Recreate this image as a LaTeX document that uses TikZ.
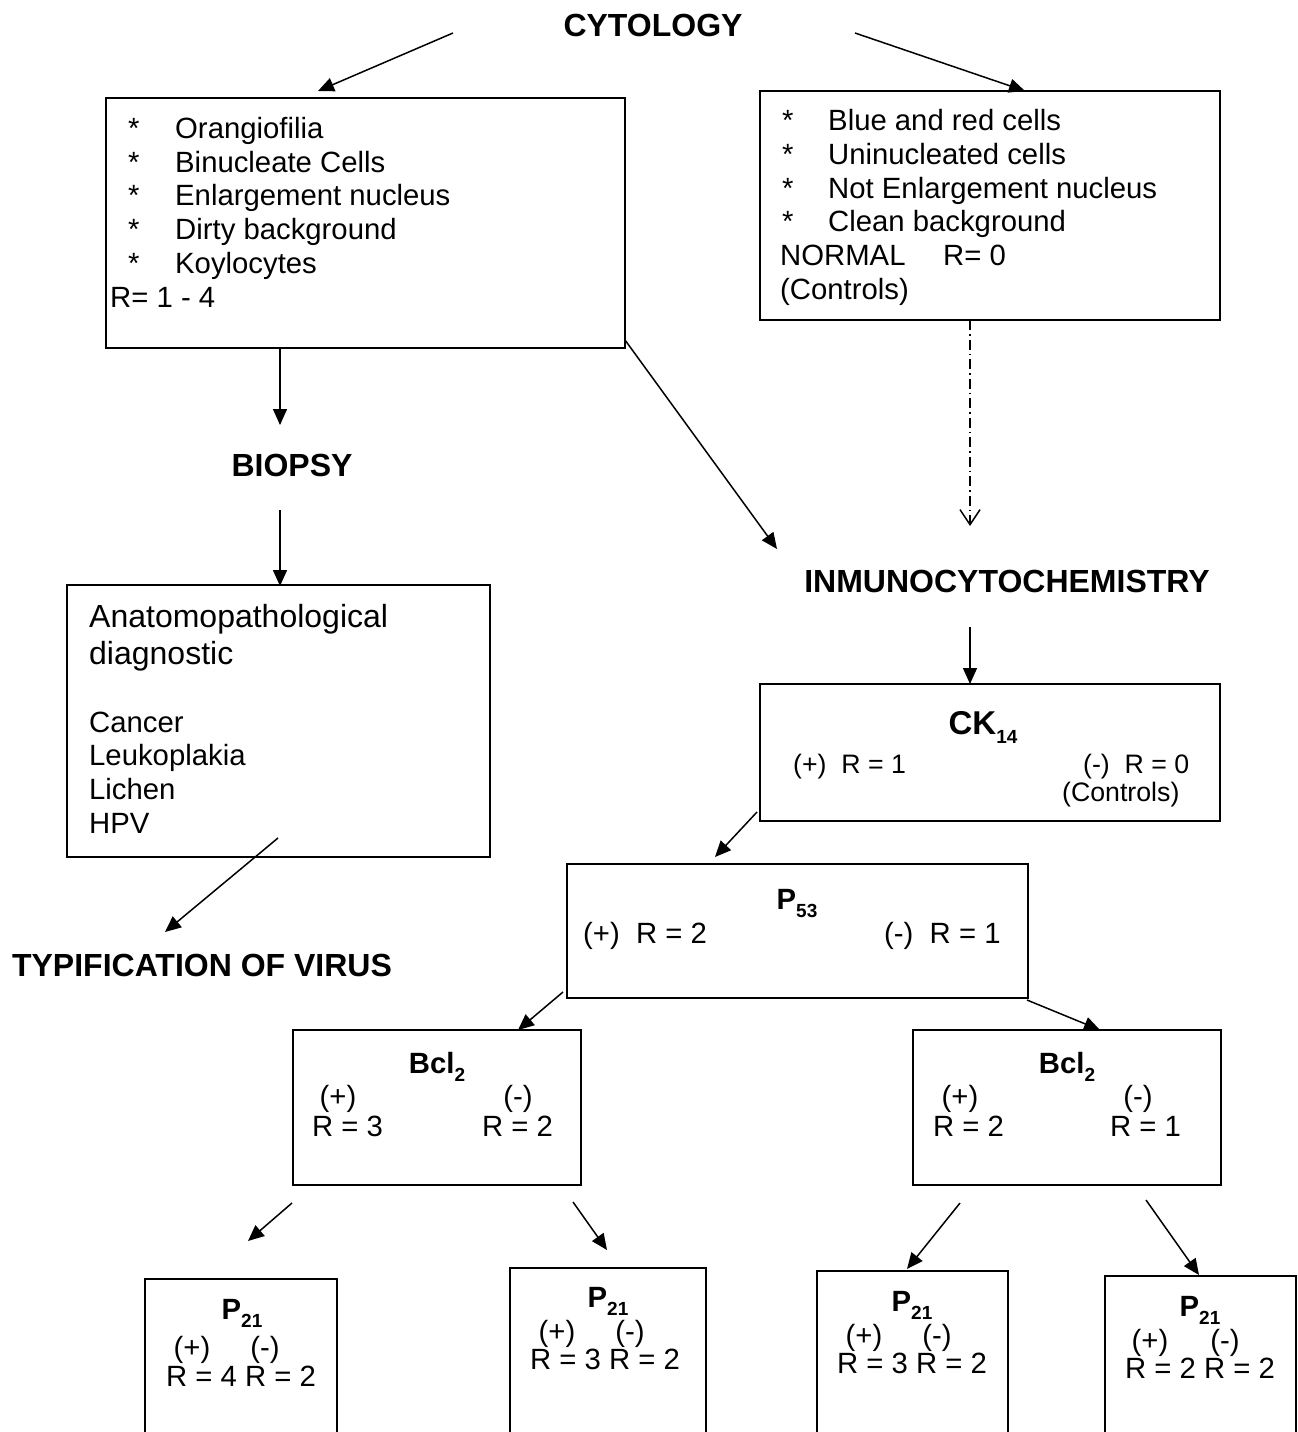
\documentclass[tikz,border=0pt]{standalone}
\usepackage{fontspec}
\setmainfont{Liberation Sans}
\usetikzlibrary{arrows.meta}

% subscript for the marker names
\newcommand{\mksub}[1]{\raisebox{-0.28em}{\fontsize{19}{19}\selectfont\bfseries #1}}

\tikzset{
  box/.style={draw, line width=1.8pt, anchor=north west, inner sep=0pt, outer sep=0pt},
  txt/.style={anchor=base west, inner sep=0pt, font=\fontsize{29.3}{33.8}\selectfont},
  smalltxt/.style={anchor=base west, inner sep=0pt, font=\fontsize{26.7}{31}\selectfont},
  ctxt/.style={anchor=base, inner sep=0pt, font=\fontsize{29.3}{33.8}\selectfont},
  bigtxt/.style={anchor=base west, inner sep=0pt, font=\fontsize{32}{37}\selectfont},
  head/.style={anchor=base, inner sep=0pt, font=\fontsize{32}{38}\selectfont\bfseries},
  ttl/.style={anchor=base, inner sep=0pt, font=\fontsize{29.3}{34}\selectfont\bfseries},
  arr/.style={line width=1.5pt, -{Triangle[length=16pt,width=14pt]}},
  dotarr/.style={line width=1.5pt, dash pattern=on 10pt off 4pt on 1.5pt off 4pt,
    -{Straight Barb[length=15pt,width=20pt]}}
}

\begin{document}
\begin{tikzpicture}[x=1pt,y=-1pt]
\useasboundingbox (0,0) rectangle (1298,1432);
\clip (0,0) rectangle (1298,1432);

% Headings
\node[head] (cyto) at (653,36) {CYTOLOGY};
\node[head] (biopsy) at (292,476) {BIOPSY};
\node[head] (inmuno) at (1007,592) {INMUNOCYTOCHEMISTRY};
\node[head] (typif) at (202,976) {TYPIFICATION OF VIRUS};

% Boxes
\node[box, minimum width=519pt, minimum height=250pt] (boxA) at (106,98) {};
\node[box, minimum width=460pt, minimum height=229pt] (boxB) at (760,91) {};
\node[box, minimum width=423pt, minimum height=272pt] (boxC) at (67,585) {};
\node[box, minimum width=460pt, minimum height=137pt] (ck) at (760,684) {};
\node[box, minimum width=461pt, minimum height=134pt] (pf) at (567,864) {};
\node[box, minimum width=288pt, minimum height=155pt] (bclL) at (293,1030) {};
\node[box, minimum width=308pt, minimum height=155pt] (bclR) at (913,1030) {};
\node[box, minimum width=192pt, minimum height=190pt] (ptA) at (145,1279) {};
\node[box, minimum width=196pt, minimum height=200pt] (ptB) at (510,1268) {};
\node[box, minimum width=191pt, minimum height=200pt] (ptC) at (817,1271) {};
\node[box, minimum width=191pt, minimum height=190pt] (ptD) at (1105,1276) {};

% Left cytology box
\node[txt] (sA1) at (128,138) {*};
\node[txt] (tA1) at (175,138) {Orangiofilia};
\node[txt] (sA2) at (128,172) {*};
\node[txt] (tA2) at (175,172) {Binucleate Cells};
\node[txt] (sA3) at (128,205) {*};
\node[txt] (tA3) at (175,205) {Enlargement nucleus};
\node[txt] (sA4) at (128,239) {*};
\node[txt] (tA4) at (175,239) {Dirty background};
\node[txt] (sA5) at (128,273) {*};
\node[txt] (tA5) at (175,273) {Koylocytes};
\node[txt] (rA) at (110,307) {R= 1 - 4};

% Right cytology box
\node[txt] (sB1) at (782,130) {*};
\node[txt] (tB1) at (828,130) {Blue and red cells};
\node[txt] (sB2) at (782,164) {*};
\node[txt] (tB2) at (828,164) {Uninucleated cells};
\node[txt] (sB3) at (782,198) {*};
\node[txt] (tB3) at (828,198) {Not Enlargement nucleus};
\node[txt] (sB4) at (782,231) {*};
\node[txt] (tB4) at (828,231) {Clean background};
\node[txt] (nB) at (780,265) {NORMAL};
\node[txt] (rB) at (943,265) {R= 0};
\node[txt] (cB) at (780,299) {(Controls)};

% Biopsy box
\node[bigtxt] (tC1) at (89,627) {Anatomopathological};
\node[bigtxt] (tC2) at (89,664) {diagnostic};
\node[txt] (tC3) at (89,732) {Cancer};
\node[txt] (tC4) at (89,765) {Leukoplakia};
\node[txt] (tC5) at (89,799) {Lichen};
\node[txt] (tC6) at (89,833) {HPV};

% CK14 box
\node[ttl, font=\fontsize{33}{38}\selectfont\bfseries] (ckT) at (983,734) {CK\mksub{14}};
\node[smalltxt] (ckP) at (793,773) {(+)\ \ R = 1};
\node[smalltxt] (ckN) at (1083,773) {(-)\ \ R = 0};
\node[smalltxt] (ckC) at (1062,801) {(Controls)};

% P53 box
\node[ttl] (pfT) at (797,909) {P\mksub{53}};
\node[txt] (pfP) at (583,943) {(+)\ \ R = 2};
\node[txt] (pfN) at (884,943) {(-)\ \ R = 1};

% Bcl2 boxes
\node[ttl] (bclLT) at (437,1073) {Bcl\mksub{2}};
\node[ctxt] (bclLP) at (338,1106) {(+)};
\node[ctxt] (bclLN) at (518,1106) {(-)};
\node[txt] (bclLR1) at (312,1136) {R = 3};
\node[txt] (bclLR2) at (482,1136) {R = 2};
\node[ttl] (bclRT) at (1067,1073) {Bcl\mksub{2}};
\node[ctxt] (bclRP) at (960,1106) {(+)};
\node[ctxt] (bclRN) at (1138,1106) {(-)};
\node[txt] (bclRR1) at (933,1136) {R = 2};
\node[txt] (bclRR2) at (1110,1136) {R = 1};

% P21 boxes
\node[ttl] (ptAT) at (242,1319) {P\mksub{21}};
\node[ctxt] (ptAP) at (192,1357) {(+)};
\node[ctxt] (ptAN) at (265,1357) {(-)};
\node[txt] (ptAR) at (166,1386) {R = 4 R = 2};
\node[ttl] (ptBT) at (608,1307) {P\mksub{21}};
\node[ctxt] (ptBP) at (557,1341) {(+)};
\node[ctxt] (ptBN) at (630,1341) {(-)};
\node[txt] (ptBR) at (530,1369) {R = 3 R = 2};
\node[ttl] (ptCT) at (912,1311) {P\mksub{21}};
\node[ctxt] (ptCP) at (864,1345) {(+)};
\node[ctxt] (ptCN) at (937,1345) {(-)};
\node[txt] (ptCR) at (837,1373) {R = 3 R = 2};
\node[ttl] (ptDT) at (1200,1316) {P\mksub{21}};
\node[ctxt] (ptDP) at (1150,1350) {(+)};
\node[ctxt] (ptDN) at (1225,1350) {(-)};
\node[txt] (ptDR) at (1125,1378) {R = 2 R = 2};

% Arrow ends
\coordinate (cytoL) at (453,33);
\coordinate (cytoR) at (855,33);
\coordinate (boxAin) at (318,91);
\coordinate (boxBin) at (1025,91);
\coordinate (boxAout) at (280,348);
\coordinate (biopsyIn) at (280,425);
\coordinate (biopsyOut) at (280,510);
\coordinate (boxCin) at (280,586);
\coordinate (boxCout) at (278,838);
\coordinate (typifIn) at (165,932);
\coordinate (boxAcorner) at (625,340);
\coordinate (inmunoIn) at (777,549);
\coordinate (boxBout) at (970,320);
\coordinate (inmunoTop) at (970,526);
\coordinate (inmunoOut) at (970,627);
\coordinate (ckIn) at (970,684);
\coordinate (ckOut) at (757,812);
\coordinate (pfIn) at (715,857);
\coordinate (pfOutL) at (563,992);
\coordinate (bclLIn) at (518,1030);
\coordinate (pfOutR) at (1027,1000);
\coordinate (bclRIn) at (1100,1030);
\coordinate (bclLOut1) at (292,1203);
\coordinate (ptAIn) at (248,1241);
\coordinate (bclLOut2) at (573,1202);
\coordinate (ptBIn) at (607,1250);
\coordinate (bclROut1) at (960,1203);
\coordinate (ptCIn) at (907,1269);
\coordinate (bclROut2) at (1146,1200);
\coordinate (ptDIn) at (1199,1275);

% Connectors
\draw[arr] (cytoL) -- (boxAin);
\draw[arr] (cytoR) -- (boxBin);
\draw[arr] (boxAout) -- (biopsyIn);
\draw[arr] (biopsyOut) -- (boxCin);
\draw[arr] (boxCout) -- (typifIn);
\draw[arr] (boxAcorner) -- (inmunoIn);
\draw[dotarr] (boxBout) -- (inmunoTop);
\draw[arr] (inmunoOut) -- (ckIn);
\draw[arr] (ckOut) -- (pfIn);
\draw[arr] (pfOutL) -- (bclLIn);
\draw[arr] (pfOutR) -- (bclRIn);
\draw[arr] (bclLOut1) -- (ptAIn);
\draw[arr] (bclLOut2) -- (ptBIn);
\draw[arr] (bclROut1) -- (ptCIn);
\draw[arr] (bclROut2) -- (ptDIn);
\end{tikzpicture}
\end{document}
